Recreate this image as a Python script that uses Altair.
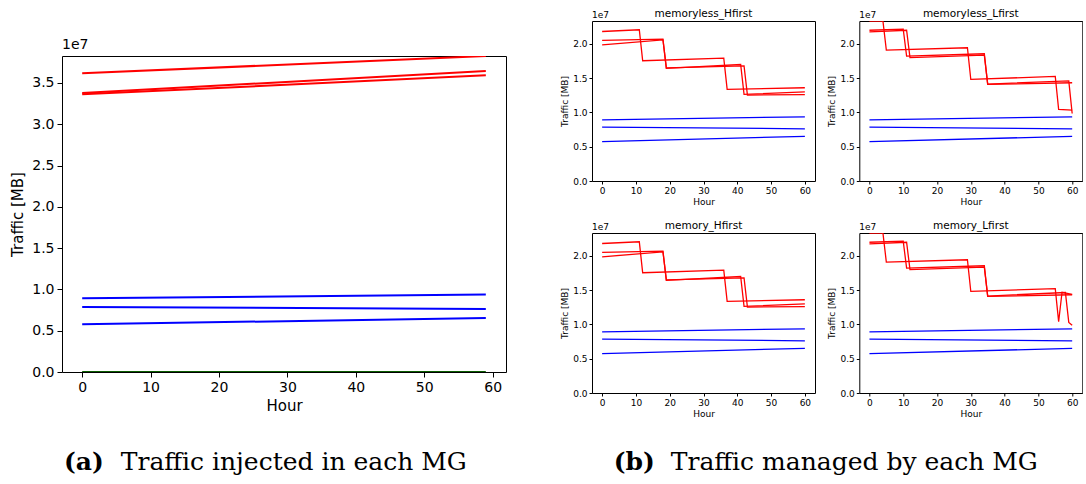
import altair as alt
import pandas as pd

# ---------------- data (values in units of 1e7 MB) ----------------
# (a) traffic injected in each MG
inj_hours = [0, 59]
inj_red1 = [3.616, 3.826]
inj_red2 = [3.378, 3.644]
inj_red3 = [3.362, 3.592]
inj_blue1 = [0.892, 0.937]
inj_blue2 = [0.787, 0.763]
inj_blue3 = [0.577, 0.654]
inj_green = [0.0, 0.0]

# (b) traffic managed by each MG
man_blue_hours = [0, 60]
man_blue1 = [0.893, 0.937]
man_blue2 = [0.786, 0.762]
man_blue3 = [0.575, 0.652]

# Hfirst policies (memoryless_Hfirst and memory_Hfirst look identical)
h_red1_hours = [0, 11, 12, 36, 37, 60]
h_red1 = [2.182, 2.207, 1.755, 1.793, 1.337, 1.361]
h_red2_hours = [0, 18, 19, 41, 42, 60]
h_red2 = [2.051, 2.070, 1.643, 1.700, 1.264, 1.300]
h_red3_hours = [0, 18, 19, 42, 43, 60]
h_red3 = [1.988, 2.060, 1.650, 1.680, 1.254, 1.260]

# memoryless_Lfirst
l_red1_hours = [0, 4, 5, 29, 30, 55, 56, 60]
l_red1 = [2.333, 2.333, 1.910, 1.944, 1.482, 1.526, 1.044, 1.035]
l_red2_hours = [0, 10, 11, 34, 35, 59, 60]
l_red2 = [2.200, 2.215, 1.822, 1.857, 1.415, 1.462, 0.985]
l_red3_hours = [0, 11, 12, 34, 35, 60]
l_red3 = [2.177, 2.200, 1.800, 1.837, 1.410, 1.434]

# memory_Lfirst
m_red1_hours = [0, 4, 5, 29, 30, 55, 56, 57, 60]
m_red1 = [2.333, 2.333, 1.910, 1.944, 1.482, 1.524, 1.040, 1.470, 1.440]
m_red2_hours = [0, 10, 11, 34, 35, 58, 59, 60]
m_red2 = [2.200, 2.215, 1.822, 1.857, 1.415, 1.466, 1.030, 0.990]
m_red3_hours = l_red3_hours
m_red3 = l_red3

panel_titles = ["memoryless_Hfirst", "memoryless_Lfirst", "memory_Hfirst", "memory_Lfirst"]
caption_a = ["(a)", "Traffic injected in each MG"]
caption_b = ["(b)", "Traffic managed by each MG"]

RED, BLUE, GREEN = "#ff0000", "#0000ff", "#0b5e00"
FONT = "DejaVu Sans"
SERIF = "DejaVu Serif"


def frame(series):
    rows = []
    for name, hours, vals, color in series:
        for h, v in zip(hours, vals):
            rows.append({"hour": h, "value": v, "series": name, "color": color})
    return pd.DataFrame(rows)


def text_layer(txt, x, y, size, align="left", baseline="alphabetic", font=FONT, weight="normal"):
    return alt.Chart(pd.DataFrame({"t": [txt]})).mark_text(
        align=align, baseline=baseline, fontSize=size, font=font, fontWeight=weight, color="black"
    ).encode(text="t:N", x=alt.value(x), y=alt.value(y))


# ---------------- left panel ----------------
left_df = frame([
    ("r1", inj_hours, inj_red1, RED), ("r2", inj_hours, inj_red2, RED), ("r3", inj_hours, inj_red3, RED),
    ("b1", inj_hours, inj_blue1, BLUE), ("b2", inj_hours, inj_blue2, BLUE), ("b3", inj_hours, inj_blue3, BLUE),
    ("g1", inj_hours, inj_green, GREEN),
])

left_lines = alt.Chart(left_df).mark_line(strokeWidth=2, clip=True).encode(
    x=alt.X("hour:Q", scale=alt.Scale(domain=[-2.95, 61.95], nice=False, zero=False),
            axis=alt.Axis(values=[0, 10, 20, 30, 40, 50, 60], title="Hour", labelFontSize=14,
                          titleFontSize=15, tickSize=5, labelPadding=3, titlePadding=4)),
    y=alt.Y("value:Q", scale=alt.Scale(domain=[0, 3.826], nice=False),
            axis=alt.Axis(values=[0, 0.5, 1, 1.5, 2, 2.5, 3, 3.5], format=".1f", title="Traffic [MB]",
                          labelFontSize=14, titleFontSize=15, tickSize=5, labelPadding=3, titlePadding=6)),
    color=alt.Color("color:N", scale=None),
    detail="series:N",
)

left_main = alt.layer(
    left_lines,
    text_layer("1e7", 0, -4, 14, baseline="bottom"),
).properties(width=444, height=316)

spacer = alt.Chart(pd.DataFrame({"a": [0]})).mark_point(opacity=0).encode(
    x=alt.value(0), y=alt.value(0)
).properties(width=444, height=25, view=alt.ViewBackground(stroke="transparent"))

left_col = alt.vconcat(spacer, left_main, spacing=10, bounds="flush")


# ---------------- small panels ----------------
SW, SH = 223, 160


def small(title, reds):
    df = frame(reds + [
        ("b1", man_blue_hours, man_blue1, BLUE),
        ("b2", man_blue_hours, man_blue2, BLUE),
        ("b3", man_blue_hours, man_blue3, BLUE),
    ])
    lines = alt.Chart(df).mark_line(strokeWidth=1.3, clip=True).encode(
        x=alt.X("hour:Q", scale=alt.Scale(domain=[-3, 63], nice=False, zero=False),
                axis=alt.Axis(values=[0, 10, 20, 30, 40, 50, 60], title="Hour", labelFontSize=9,
                              titleFontSize=9, tickSize=3, labelPadding=2, titlePadding=2)),
        y=alt.Y("value:Q", scale=alt.Scale(domain=[0, 2.335], nice=False),
                axis=alt.Axis(values=[0, 0.5, 1, 1.5, 2], format=".1f", title="Traffic [MB]",
                              labelFontSize=9, titleFontSize=9, tickSize=3, labelPadding=2, titlePadding=3)),
        color=alt.Color("color:N", scale=None),
        detail="series:N",
    )
    return alt.layer(
        lines,
        text_layer("1e7", 0, -3, 9, baseline="alphabetic"),
        text_layer(title, SW / 2, -4.5, 10.5, align="center"),
    ).properties(width=SW, height=SH)


p1 = small(panel_titles[0], [("r1", h_red1_hours, h_red1, RED), ("r2", h_red2_hours, h_red2, RED),
                             ("r3", h_red3_hours, h_red3, RED)])
p2 = small(panel_titles[1], [("r1", l_red1_hours, l_red1, RED), ("r2", l_red2_hours, l_red2, RED),
                             ("r3", l_red3_hours, l_red3, RED)])
p3 = small(panel_titles[2], [("r1", h_red1_hours, h_red1, RED), ("r2", h_red2_hours, h_red2, RED),
                             ("r3", h_red3_hours, h_red3, RED)])
p4 = small(panel_titles[3], [("r1", m_red1_hours, m_red1, RED), ("r2", m_red2_hours, m_red2, RED),
                             ("r3", m_red3_hours, m_red3, RED)])

grid = alt.concat(p1, p2, p3, p4, columns=2, spacing={"row": 52, "column": 44.3}, bounds="flush")

top_row = alt.hconcat(left_col, grid, spacing=53)

# ---------------- captions (x relative to the left plot's left edge) ----------------
captions = alt.layer(
    text_layer(caption_a[0], 21.8, 24, 25, align="center", font=SERIF, weight="bold"),
    text_layer(caption_a[1], 231.8, 24, 25, align="center", font=SERIF),
    text_layer(caption_b[0], 572.3, 24, 25, align="center", font=SERIF, weight="bold"),
    text_layer(caption_b[1], 792.3, 24, 25, align="center", font=SERIF),
).properties(width=1000, height=30, view=alt.ViewBackground(stroke="transparent"))

chart = alt.vconcat(top_row, captions, spacing=26).properties(
    padding={"left": 10, "top": 8, "right": 0, "bottom": 0},
    background="white",
).configure_view(stroke="black", strokeWidth=1).configure_axis(
    labelFont=FONT, titleFont=FONT, labelColor="black", titleColor="black",
    tickColor="black", domain=False, tickWidth=1,
    titleFontWeight="normal", grid=False,
)

chart.save("out.html", embed_options={"renderer": "svg", "actions": False})
